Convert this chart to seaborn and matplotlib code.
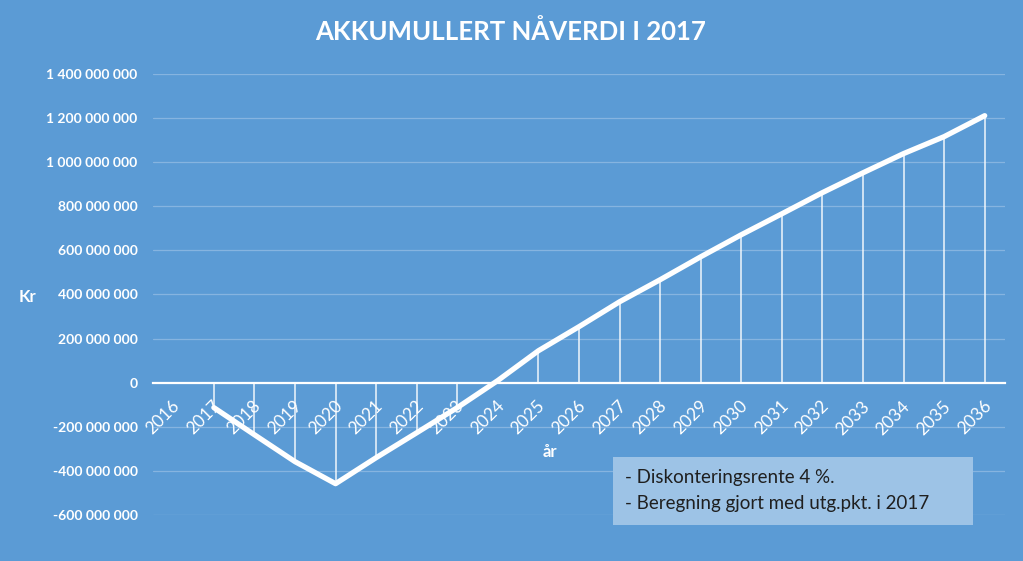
import matplotlib
matplotlib.use("Agg")
import matplotlib.pyplot as plt
import matplotlib.ticker as mticker
import matplotlib.transforms as mtransforms
from matplotlib.patches import Rectangle
import seaborn as sns
import pandas as pd
import numpy as np

# ---- data ----
years = list(range(2016, 2037))
values_mnok = [np.nan, -113, -236, -358, -458, -340, -227, -113, 10, 145,
               254, 367, 467, 571, 671, 766, 862, 952, 1039, 1116, 1211]
y_ticks = [-600e6, -400e6, -200e6, 0, 200e6, 400e6, 600e6, 800e6,
           1000e6, 1200e6, 1400e6]
title = "AKKUMULLERT NÅVERDI I 2017"
x_label = "år"
y_label = "Kr"
notes = ["- Diskonteringsrente 4 %.", "- Beregning gjort med utg.pkt. i 2017"]

bg = "#5B9BD5"
grid_c = "#86B4E0"

sns.set_theme(style="white")
plt.rcParams['font.family'] = ['Lato', 'DejaVu Sans']

df = pd.DataFrame({"år": years, "verdi": [v * 1e6 for v in values_mnok]})
d = df.dropna()

W, H = 1023, 561
fig = plt.figure(figsize=(W / 100, H / 100), dpi=100, facecolor=bg)
ax = fig.add_axes([153 / W, 46 / H, 852 / W, 441 / H])
ax.set_facecolor(bg)

for s in ["top", "right", "left"]:
    ax.spines[s].set_visible(False)
ax.spines["bottom"].set_position(("data", 0))
ax.spines["bottom"].set_color("white")
ax.spines["bottom"].set_linewidth(1.6)
ax.spines["bottom"].set_zorder(2.5)

for yv in y_ticks:
    if yv != 0:
        ax.axhline(yv, color=grid_c, lw=0.9, zorder=0)

ax.vlines(d["år"], 0, d["verdi"], color="white", lw=1.1, alpha=0.9, zorder=2)
sns.lineplot(data=d, x="år", y="verdi", color="white", lw=3.8, ax=ax,
             zorder=3, solid_joinstyle="round", solid_capstyle="round")

ax.set_ylim(-600e6, 1400e6)
ax.set_xlim(2015.5, 2036.5)
ax.set_yticks(y_ticks)
ax.yaxis.set_major_formatter(mticker.FuncFormatter(
    lambda v, p: f"{int(round(v)):,}".replace(",", " ")))
ax.set_xticks(years)
ax.set_xticklabels([str(y) for y in years])
ax.set_xlabel("")
ax.set_ylabel("")

ax.tick_params(axis="y", length=0, pad=11, labelcolor="white", labelsize=10)
ax.tick_params(axis="x", length=0, pad=15, labelcolor="white", labelsize=12.5)
for t in ax.get_yticklabels():
    t.set_fontweight("bold")
plt.setp(ax.get_xticklabels(), rotation=45, ha="right", va="center",
         rotation_mode="anchor")
offset = mtransforms.ScaledTranslation(4 / 100, 0, fig.dpi_scale_trans)
for lbl in ax.get_xticklabels():
    lbl.set_transform(lbl.get_transform() + offset)

fig.text(511 / W, 1 - 32 / H, title, ha="center", va="center", color="white",
         fontsize=18.5, fontweight="bold")
fig.text(550 / W, 1 - 452 / H, x_label, ha="center", va="center",
         color="white", fontsize=12, fontweight="bold")
fig.text(27 / W, 1 - 297 / H, y_label, ha="center", va="center",
         color="white", fontsize=12, fontweight="bold")

fig.patches.append(Rectangle((613 / W, 1 - 525 / H), 360 / W, 68 / H,
                             transform=fig.transFigure, facecolor="#9DC3E6",
                             edgecolor="none", zorder=5))
fig.text(625 / W, 1 - 478 / H, notes[0], ha="left", va="center",
         color="#1F1F1F", fontsize=13.5, zorder=6)
fig.text(625 / W, 1 - 504 / H, notes[1], ha="left", va="center",
         color="#1F1F1F", fontsize=13.5, zorder=6)

fig.savefig("out.png", dpi=100, facecolor=bg)
